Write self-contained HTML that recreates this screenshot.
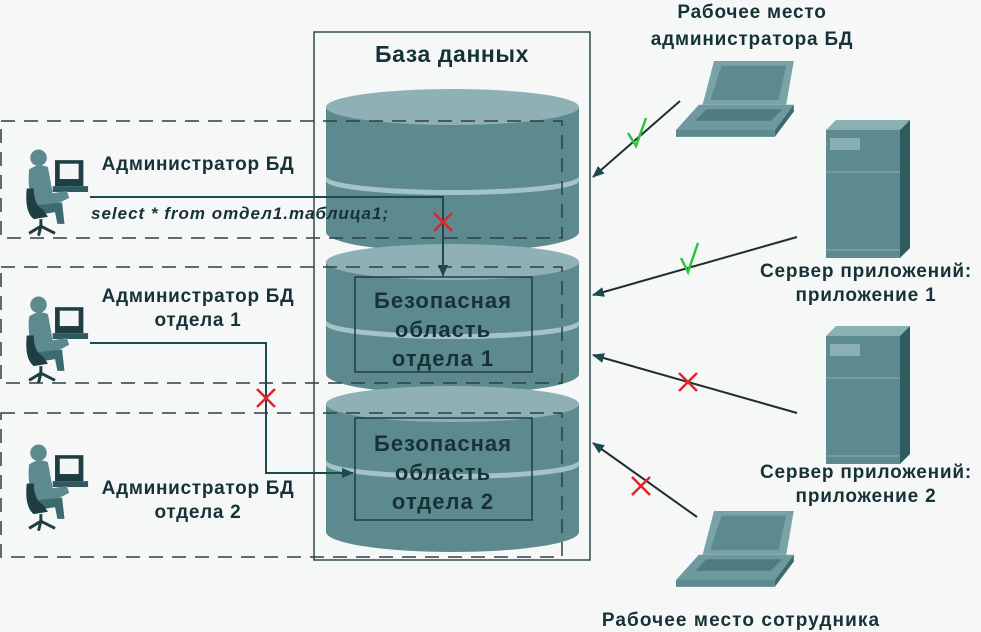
<!DOCTYPE html>
<html><head><meta charset="utf-8"><style>
html,body{margin:0;padding:0;background:#f6f8f8;}
svg{display:block;}
text{font-family:"Liberation Sans","DejaVu Sans",sans-serif;font-weight:bold;fill:#163236;}
</style></head><body>
<svg width="981" height="632" viewBox="0 0 981 632" xmlns="http://www.w3.org/2000/svg">
<defs>
<marker id="ah" markerWidth="12" markerHeight="10" refX="11" refY="5" orient="auto" markerUnits="userSpaceOnUse">
<path d="M0,0 L12,5 L0,10 Z" fill="#1d4a4e"/></marker>
<g id="person">
<rect x="28" y="12" width="24" height="22" fill="#1f3d42"/>
<rect x="32" y="15" width="16" height="13" fill="#f4f6f6"/>
<rect x="26" y="34" width="30" height="5" fill="#2f5a5f"/>
<circle cx="14" cy="10" r="7" fill="#5d8a8f"/>
<path d="M6,20 Q14,14 22,18 L26,40 L38,38 L40,44 L28,50 L12,52 Q4,40 6,20 Z" fill="#5d8a8f"/>
<path d="M14,50 L34,48 L36,66 L30,66 L28,56 L16,58 Z" fill="#3d6a6f"/>
<path d="M4,36 Q2,56 10,62 L22,60 L18,54 Q10,50 10,36 Z" fill="#1f3d42"/>
<path d="M16,62 L16,70 M6,74 L16,68 L28,74 M16,68 L14,76" stroke="#1f3d42" stroke-width="2.5" fill="none"/>
</g>
<g id="laptop">
<path d="M20,0 L62,0 L58,38 L14,38 Z" fill="#7aa3a8"/>
<path d="M24,4 L58,4 L54,34 L18,34 Z" fill="#5d8a8f"/>
<path d="M12,38 L62,38 L52,60 L0,60 Z" fill="#6e9a9f"/>
<path d="M16,42 L56,42 L50,52 L10,52 Z" fill="#4f7c81"/>
<path d="M0,60 L52,60 L52,66 L0,66 Z" fill="#5d8a8f"/>
<path d="M52,60 L62,38 L62,44 L52,66 Z" fill="#3d6a6f"/>
</g>
<g id="server">
<path d="M0,10 L10,0 L84,0 L74,10 Z" fill="#8ab0b4"/>
<path d="M74,10 L84,0 L84,128 L74,138 Z" fill="#2f5a5f"/>
<rect x="0" y="10" width="74" height="128" fill="#5d8a8f"/>
<rect x="4" y="18" width="30" height="12" fill="#8ab0b4"/>
<line x1="0" y1="52" x2="74" y2="52" stroke="#8ab0b4" stroke-width="1"/>
<line x1="0" y1="130" x2="74" y2="130" stroke="#8ab0b4" stroke-width="1"/>
</g>
</defs>

<rect x="314" y="32" width="276" height="528" fill="none" stroke="#2d4a4e" stroke-width="1.5"/>
<text x="452" y="62" font-size="23" letter-spacing="0.6" text-anchor="middle">База данных</text>

<g>
<path d="M326,107 L326,232 A126.5,20 0 0 0 579,232 L579,107 Z" fill="#5d8a8f"/>
<path d="M326,176 A126.5,14 0 0 0 579,176 L579,181 A126.5,14 0 0 1 326,181 Z" fill="#a3c3c6"/>
<ellipse cx="452.5" cy="107" rx="126.5" ry="18" fill="#8fb1b5"/>
<path d="M326,262 L326,374 A126.5,20 0 0 0 579,374 L579,262 Z" fill="#5d8a8f"/>
<path d="M326,320 A126.5,14 0 0 0 579,320 L579,325 A126.5,14 0 0 1 326,325 Z" fill="#a3c3c6"/>
<ellipse cx="452.5" cy="262" rx="126.5" ry="18" fill="#8fb1b5"/>
<path d="M326,404 L326,532 A126.5,20 0 0 0 579,532 L579,404 Z" fill="#5d8a8f"/>
<path d="M326,460 A126.5,14 0 0 0 579,460 L579,465 A126.5,14 0 0 1 326,465 Z" fill="#a3c3c6"/>
<ellipse cx="452.5" cy="404" rx="126.5" ry="18" fill="#8fb1b5"/>
</g>

<g fill="none" stroke="#2d3f42" stroke-width="1.5" stroke-dasharray="14,9">
<rect x="1" y="121" width="561" height="117"/>
<rect x="1" y="267" width="561" height="116"/>
<rect x="1" y="413" width="561" height="144"/>
</g>

<rect x="355" y="277" width="177" height="95" fill="none" stroke="#1f3d42" stroke-width="1.5"/>
<rect x="355" y="418" width="177" height="102" fill="none" stroke="#1f3d42" stroke-width="1.5"/>
<text font-size="22" letter-spacing="1" text-anchor="middle"><tspan x="443" y="308">Безопасная</tspan><tspan x="443" y="337">область</tspan><tspan x="443" y="366">отдела 1</tspan></text>
<text font-size="22" letter-spacing="1" text-anchor="middle"><tspan x="443" y="451">Безопасная</tspan><tspan x="443" y="480">область</tspan><tspan x="443" y="509">отдела 2</tspan></text>

<use href="#person" transform="translate(22,146) scale(1.18)"/>
<use href="#person" transform="translate(22,293) scale(1.18)"/>
<use href="#person" transform="translate(22,441) scale(1.18)"/>

<text x="198" y="170" font-size="19" letter-spacing="0.7" text-anchor="middle">Администратор БД</text>
<text font-size="19" letter-spacing="0.7" text-anchor="middle"><tspan x="198" y="302">Администратор БД</tspan><tspan x="198" y="326">отдела 1</tspan></text>
<text font-size="19" letter-spacing="0.7" text-anchor="middle"><tspan x="198" y="494">Администратор БД</tspan><tspan x="198" y="518">отдела 2</tspan></text>
<text x="91" y="219" font-size="17" letter-spacing="1" font-style="italic">select * from отдел1.таблица1;</text>

<polyline points="90,197 443,197 443,276" fill="none" stroke="#1d4a4e" stroke-width="2" marker-end="url(#ah)"/>
<polyline points="90,343 266,343 266,473 353,473" fill="none" stroke="#1d4a4e" stroke-width="2" marker-end="url(#ah)"/>

<g stroke="#1d2f30" stroke-width="2" marker-end="url(#ah)">
<line x1="680" y1="101" x2="593" y2="177"/>
<line x1="797" y1="237" x2="593" y2="295"/>
<line x1="797" y1="413" x2="593" y2="355"/>
<line x1="697" y1="517" x2="593" y2="443"/>
</g>

<g stroke="#e0242a" stroke-width="2.5">
<path d="M434,213 L452,231 M452,213 L434,231"/>
<path d="M257,389 L275,407 M275,389 L257,407"/>
<path d="M679,373 L697,391 M697,373 L679,391"/>
<path d="M632,477 L650,495 M650,477 L632,495"/>
</g>
<g stroke="#2fc43a" stroke-width="2.5" fill="none">
<path d="M628,133 L636,146 L646,118"/>
<path d="M681,258 L688,272 L698,243"/>
</g>

<use href="#laptop" transform="translate(676,61) scale(1.9,1.15)"/>
<use href="#laptop" transform="translate(676,511) scale(1.9,1.15)"/>
<use href="#server" x="826" y="120"/>
<use href="#server" x="826" y="326"/>

<text font-size="19" letter-spacing="0.8" text-anchor="middle"><tspan x="752" y="18">Рабочее место</tspan><tspan x="752" y="45">администратора БД</tspan></text>
<text font-size="19" letter-spacing="0.8" text-anchor="middle"><tspan x="866" y="277">Сервер приложений:</tspan><tspan x="866" y="301">приложение 1</tspan></text>
<text font-size="19" letter-spacing="0.8" text-anchor="middle"><tspan x="866" y="478">Сервер приложений:</tspan><tspan x="866" y="502">приложение 2</tspan></text>
<text x="741" y="626" font-size="19" letter-spacing="1.1" text-anchor="middle">Рабочее место сотрудника</text>
</svg>
</body></html>
